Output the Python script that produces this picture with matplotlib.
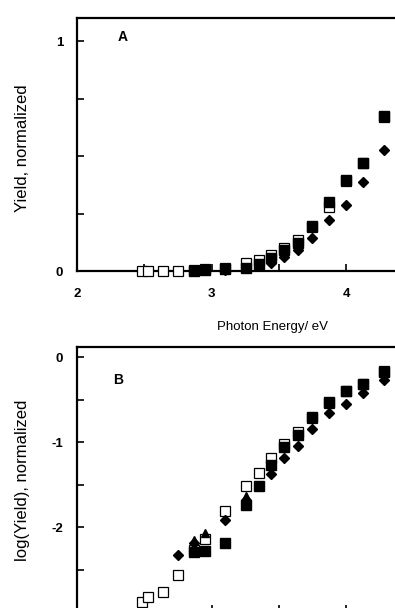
import matplotlib
matplotlib.use("Agg")
import matplotlib.pyplot as plt
from matplotlib.ticker import MultipleLocator

plt.rcParams['font.family'] = ['Liberation Sans', 'DejaVu Sans']
plt.rcParams['axes.unicode_minus'] = False

# open squares
open_x = [2.48, 2.53, 2.64, 2.75, 2.87, 2.95, 3.10, 3.26, 3.35, 3.44, 3.54, 3.64, 3.75, 3.87, 4.00, 4.13, 4.28]
open_a = [0, 0, 0, 0, 0.005, 0.007, 0.015, 0.035, 0.05, 0.07, 0.10, 0.135, 0.19, 0.28, 0.39, 0.47, 0.67]
open_b = [-2.88, -2.82, -2.76, -2.56, -2.27, -2.14, -1.81, -1.51, -1.36, -1.18, -1.02, -0.88, -0.71, -0.54, -0.40, -0.31, -0.16]

# filled squares
sq_x = [2.87, 2.95, 3.10, 3.26, 3.35, 3.44, 3.54, 3.64, 3.75, 3.87, 4.00, 4.13, 4.28]
sq_a = [0.002, 0.003, 0.008, 0.015, 0.03, 0.055, 0.09, 0.12, 0.197, 0.30, 0.395, 0.47, 0.675]
sq_b = [-2.29, -2.28, -2.19, -1.74, -1.51, -1.27, -1.06, -0.92, -0.70, -0.53, -0.40, -0.32, -0.17]

# filled diamonds (panel A: the lowest point sits hidden on the axis)
dm_xa = [2.87, 3.10, 3.26, 3.35, 3.44, 3.54, 3.64, 3.75, 3.87, 4.00, 4.13, 4.28]
dm_a = [0.003, 0.006, 0.015, 0.025, 0.035, 0.06, 0.09, 0.145, 0.22, 0.285, 0.385, 0.525]
dm_xb = [2.75, 2.87, 3.10, 3.26, 3.35, 3.44, 3.54, 3.64, 3.75, 3.87, 4.00, 4.13, 4.28]
dm_b = [-2.33, -2.19, -1.91, -1.68, -1.52, -1.37, -1.19, -1.05, -0.84, -0.66, -0.545, -0.42, -0.27]

# filled triangles (only visible in B)
tr_x = [2.87, 2.95, 3.26]
tr_b = [-2.15, -2.07, -1.63]

W, H = 395, 608
fig = plt.figure(figsize=(W / 100, H / 100), dpi=100)

ax_w = 2.4 * 134.5 / W
axA = fig.add_axes([77 / W, (H - 271) / H, ax_w, 253 / H])
axB = fig.add_axes([77 / W, (H - 612.2) / H, ax_w, 265.2 / H])

for ax in (axA, axB):
    for s in ax.spines.values():
        s.set_linewidth(1.6)
    ax.set_xlim(2, 4.4)
    ax.xaxis.set_major_locator(MultipleLocator(1))
    ax.xaxis.set_minor_locator(MultipleLocator(0.5))
    ax.tick_params(which='both', direction='in', length=5, width=1.2, top=False, right=False)

ms_sq = 6.6
ms_dm = 5.2

# panel A
axA.plot(open_x, open_a, 's', ms=ms_sq, mfc='white', mec='black', mew=0.9, clip_on=False, zorder=3)
axA.plot(dm_xa, dm_a, 'D', ms=ms_dm, color='black', clip_on=False, zorder=4)
axA.plot(sq_x, sq_a, 's', ms=ms_sq, color='black', clip_on=False, zorder=5)
axA.set_ylim(0, 1.1)
axA.yaxis.set_major_locator(MultipleLocator(1))
axA.yaxis.set_minor_locator(MultipleLocator(0.25))
axA.tick_params(axis='x', pad=12, labelsize=9.5)
axA.tick_params(axis='y', pad=10, labelsize=9.5)
for lab in axA.get_xticklabels() + axA.get_yticklabels():
    lab.set_fontweight('bold')
axA.set_xlabel('Photon Energy/ eV', fontsize=9.5)
axA.xaxis.set_label_coords(0.607, -0.198)
axA.set_ylabel('Yield, normalized', fontsize=12)
axA.yaxis.set_label_coords(-0.146, 0.486)
axA.text(0.1425, 0.925, 'A', transform=axA.transAxes, fontsize=10, fontweight='bold', ha='center', va='center')

# panel B
axB.plot(open_x, open_b, 's', ms=ms_sq, mfc='white', mec='black', mew=0.9, zorder=3)
axB.plot(dm_xb, dm_b, 'D', ms=ms_dm, color='black', zorder=4)
axB.plot(tr_x, tr_b, '^', ms=6, color='black', zorder=4)
axB.plot(sq_x, sq_b, 's', ms=ms_sq, color='black', zorder=5)
axB.set_ylim(-3.0, 0.12)
axB.yaxis.set_major_locator(MultipleLocator(1))
axB.yaxis.set_minor_locator(MultipleLocator(0.5))
axB.tick_params(axis='y', pad=10, labelsize=9.5)
axB.tick_params(axis='x', labelbottom=False)
for lab in axB.get_yticklabels():
    lab.set_fontweight('bold')
axB.set_ylabel('log(Yield), normalized', fontsize=12)
axB.yaxis.set_label_coords(-0.146, 0.498)
axB.text(0.127, 0.875, 'B', transform=axB.transAxes, fontsize=10, fontweight='bold', ha='center', va='center')

fig.savefig('out.png', dpi=100)
